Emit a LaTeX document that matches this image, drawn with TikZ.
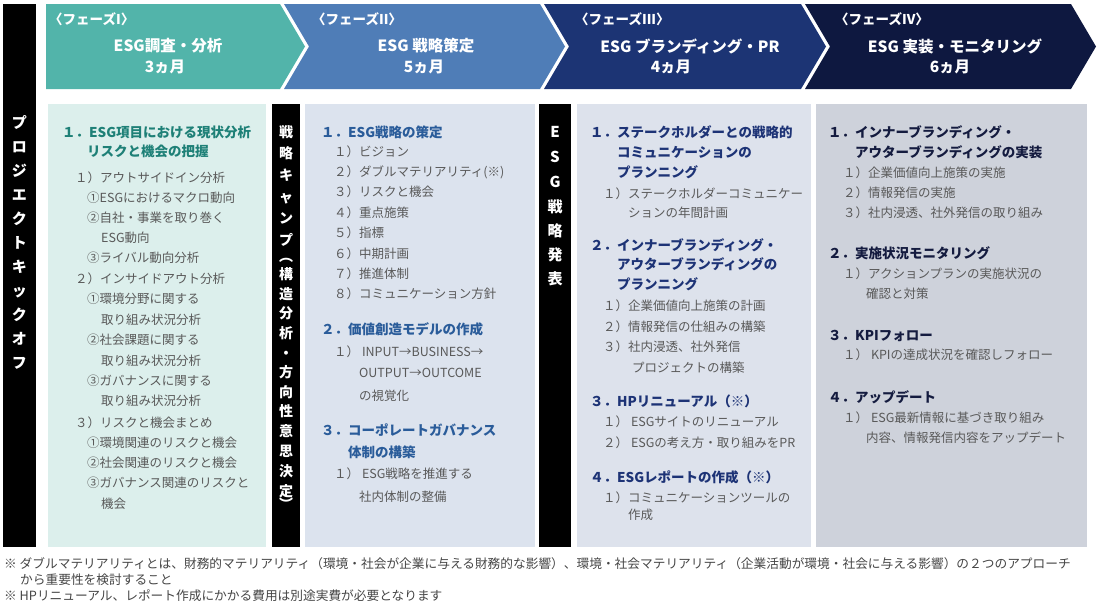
\documentclass[tikz,border=0pt]{standalone}
\usepackage{fontspec}
\newfontfamily\jp{Noto Sans CJK JP}
\definecolor{ph1}{HTML}{52B4AA}
\definecolor{ph2}{HTML}{4F7DB7}
\definecolor{ph3}{HTML}{1C3474}
\definecolor{ph4}{HTML}{0E1840}
\definecolor{bg1}{HTML}{DCEFEC}
\definecolor{bg2}{HTML}{DCE3EE}
\definecolor{bg3}{HTML}{DDE2EC}
\definecolor{bg4}{HTML}{CED2DB}
\definecolor{hd1}{HTML}{1E8077}
\definecolor{hd2}{HTML}{2A5C9A}
\definecolor{hd3}{HTML}{1D3376}
\definecolor{hd4}{HTML}{141B3F}
\definecolor{txt}{HTML}{595959}
\definecolor{ntxt}{HTML}{454545}
\begin{document}
\begin{tikzpicture}[x=1pt, y=-1pt,
  entry/.style={anchor=west, inner sep=0pt, text=txt, font=\jp\fontsize{12.5}{14}\selectfont, text height=11pt, text depth=1.5pt},
  heading/.style={entry, text=#1, font=\jp\bfseries\fontsize{13.5}{15}\selectfont, text height=11.9pt, text depth=1.6pt},
  remark/.style={entry, text=ntxt, font=\jp\fontsize{12.7}{14}\selectfont},
  phase/.style={inner sep=0pt, text=white, font=\jp\bfseries\fontsize{13.5}{15}\selectfont},
  ptitle/.style={phase, font=\jp\bfseries\fontsize{15.5}{17}\selectfont},
  vchar/.style={inner sep=0pt, text=white, font=\jp\bfseries\fontsize{15}{17}\selectfont, text height=13.2pt, text depth=1.8pt}]

\useasboundingbox (0,0) rectangle (1100,603);

\fill[ph1] (46,4)--(280,4)--(305,46.5)--(280,89)--(46,89)--cycle;
\fill[ph2] (284,4)--(540,4)--(565,46.5)--(540,89)--(284,89)--(309,46.5)--cycle;
\fill[ph3] (544,4)--(801,4)--(826,46.5)--(801,89)--(544,89)--(569,46.5)--cycle;
\fill[ph4] (805,4)--(1071,4)--(1096,46.5)--(1071,89)--(805,89)--(830,46.5)--cycle;

\node (p1) [phase, anchor=west] at (49,19) {〈フェーズI〉};
\node (p1t) [ptitle] at (168,46) {ESG調査・分析};
\node (p1m) [ptitle] at (165,67) {3ヵ月};
\node (p2) [phase, anchor=west] at (312,19) {〈フェーズII〉};
\node (p2t) [ptitle] at (426,46) {ESG 戦略策定};
\node (p2m) [ptitle] at (424,67) {5ヵ月};
\node (p3) [phase, anchor=west] at (575,19) {〈フェーズIII〉};
\node (p3t) [ptitle] at (690,46) {ESG ブランディング・PR};
\node (p3m) [ptitle] at (671,67) {4ヵ月};
\node (p4) [phase, anchor=west] at (835,19) {〈フェーズIV〉};
\node (p4t) [ptitle] at (955,46) {ESG 実装・モニタリング};
\node (p4m) [ptitle] at (950,67) {6ヵ月};

\fill (3,4) rectangle (36,547);
\fill[bg1] (48,104) rectangle (266,547);
\fill (272,104) rectangle (300,547);
\fill[bg2] (305,104) rectangle (535,547);
\fill (539,104) rectangle (571,547);
\fill[bg3] (577,104) rectangle (811,547);
\fill[bg4] (816,104) rectangle (1087,547);

\foreach \c [count=\i from 0] in {プ,ロ,ジ,エ,ク,ト,キ,ッ,ク,オ,フ}
  \node (kick\i) [vchar] at (19.5,123+24*\i) {\c};
\foreach \c/\y [count=\i] in {戦/132,略/153,キ/175,ャ/197,ン/218,プ/240,︵/256,構/274,造/294,分/313,析/333,・/353,方/372,向/392,性/411,意/431,思/451,決/471,定/491,︶/504}
  \node (camp\i) [vchar, font=\jp\bfseries\fontsize{14}{16}\selectfont] at (286,\y) {\c};
\foreach \c/\y [count=\i] in {E/132,S/157,G/182,戦/207,略/231,発/255,表/279}
  \node (pres\i) [vchar] at (555,\y) {\c};

\node (c1h1) [heading=hd1] at (62,132) {１．ESG項目における現状分析};
\node (c1h1b) [heading=hd1] at (87,151) {リスクと機会の把握};
\node (c1a) [entry] at (75,178) {１）アウトサイドイン分析};
\node (c1a1) [entry] at (87,198) {①ESGにおけるマクロ動向};
\node (c1a2) [entry] at (87,218) {②自社・事業を取り巻く};
\node (c1a2b) [entry] at (101,238) {ESG動向};
\node (c1a3) [entry] at (87,258) {③ライバル動向分析};
\node (c1b) [entry] at (75,279) {２）インサイドアウト分析};
\node (c1b1) [entry] at (87,299) {①環境分野に関する};
\node (c1b1b) [entry] at (101,320) {取り組み状況分析};
\node (c1b2) [entry] at (87,340) {②社会課題に関する};
\node (c1b2b) [entry] at (101,361) {取り組み状況分析};
\node (c1b3) [entry] at (87,381) {③ガバナンスに関する};
\node (c1b3b) [entry] at (101,401) {取り組み状況分析};
\node (c1c) [entry] at (75,423) {３）リスクと機会まとめ};
\node (c1c1) [entry] at (87,443) {①環境関連のリスクと機会};
\node (c1c2) [entry] at (87,463) {②社会関連のリスクと機会};
\node (c1c3) [entry] at (87,483) {③ガバナンス関連のリスクと};
\node (c1c3b) [entry] at (101,504) {機会};

\node (c2h1) [heading=hd2] at (321,132) {１．ESG戦略の策定};
\node (c2a) [entry] at (334,152) {１）ビジョン};
\node (c2b) [entry] at (334,172) {２）ダブルマテリアリティ(※)};
\node (c2c) [entry] at (334,192) {３）リスクと機会};
\node (c2d) [entry] at (334,213) {４）重点施策};
\node (c2e) [entry] at (334,233) {５）指標};
\node (c2f) [entry] at (334,254) {６）中期計画};
\node (c2g) [entry] at (334,274) {７）推進体制};
\node (c2h) [entry] at (334,294) {８）コミュニケーション方針};
\node (c2h2) [heading=hd2] at (321,329) {２．価値創造モデルの作成};
\node (c2i) [entry] at (334,352) {１） INPUT→BUSINESS→};
\node (c2ib) [entry] at (359,373) {OUTPUT→OUTCOME};
\node (c2ic) [entry] at (359,396) {の視覚化};
\node (c2h3) [heading=hd2] at (321,430) {３．コーポレートガバナンス};
\node (c2h3b) [heading=hd2] at (348,452) {体制の構築};
\node (c2j) [entry] at (334,474) {１） ESG戦略を推進する};
\node (c2jb) [entry] at (359,497) {社内体制の整備};

\node (c3h1) [heading=hd3] at (590,132) {１．ステークホルダーとの戦略的};
\node (c3h1b) [heading=hd3] at (617,152) {コミュニケーションの};
\node (c3h1c) [heading=hd3] at (617,172) {プランニング};
\node (c3a) [entry] at (603,194) {１）ステークホルダーコミュニケー};
\node (c3ab) [entry] at (628,213) {ションの年間計画};
\node (c3h2) [heading=hd3] at (590,245) {２．インナーブランディング・};
\node (c3h2b) [heading=hd3] at (617,264) {アウターブランディングの};
\node (c3h2c) [heading=hd3] at (617,284) {プランニング};
\node (c3b) [entry] at (603,306) {１）企業価値向上施策の計画};
\node (c3c) [entry] at (603,327) {２）情報発信の仕組みの構築};
\node (c3d) [entry] at (603,347) {３）社内浸透、社外発信};
\node (c3db) [entry] at (632,368) {プロジェクトの構築};
\node (c3h3) [heading=hd3] at (590,401) {３．HPリニューアル（※）};
\node (c3e) [entry] at (603,422) {１） ESGサイトのリニューアル};
\node (c3f) [entry] at (603,443) {２） ESGの考え方・取り組みをPR};
\node (c3h4) [heading=hd3] at (590,477) {４．ESGレポートの作成（※）};
\node (c3g) [entry] at (603,498) {１）コミュニケーションツールの};
\node (c3gb) [entry] at (628,515) {作成};

\node (c4h1) [heading=hd4] at (828,132) {１．インナーブランディング・};
\node (c4h1b) [heading=hd4] at (855,152) {アウターブランディングの実装};
\node (c4a) [entry] at (843,173) {１）企業価値向上施策の実施};
\node (c4b) [entry] at (843,193) {２）情報発信の実施};
\node (c4c) [entry] at (843,213) {３）社内浸透、社外発信の取り組み};
\node (c4h2) [heading=hd4] at (828,253) {２．実施状況モニタリング};
\node (c4d) [entry] at (843,274) {１）アクションプランの実施状況の};
\node (c4db) [entry] at (866,294) {確認と対策};
\node (c4h3) [heading=hd4] at (828,335) {３．KPIフォロー};
\node (c4e) [entry] at (843,355) {１） KPIの達成状況を確認しフォロー};
\node (c4h4) [heading=hd4] at (828,397) {４．アップデート};
\node (c4f) [entry] at (843,418) {１） ESG最新情報に基づき取り組み};
\node (c4fb) [entry] at (866,438) {内容、情報発信内容をアップデート};

\node (n1) [remark] at (4,564) {※ ダブルマテリアリティとは、財務的マテリアリティ（環境・社会が企業に与える財務的な影響）、環境・社会マテリアリティ（企業活動が環境・社会に与える影響）の２つのアプローチ};
\node (n1b) [remark] at (20,580) {から重要性を検討すること};
\node (n2) [remark] at (4,596) {※ HPリニューアル、レポート作成にかかる費用は別途実費が必要となります};

\end{tikzpicture}
\end{document}
